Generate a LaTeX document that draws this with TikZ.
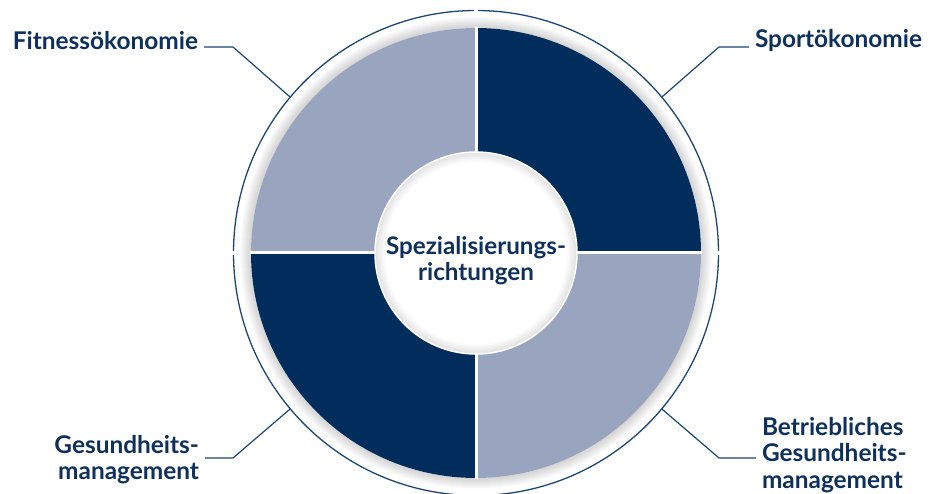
\documentclass[tikz,border=0pt]{standalone}
\usepackage{fontspec}
\setmainfont{Lato}
\usepackage{xcolor}
\definecolor{spNavy}{HTML}{002D5C}
\definecolor{spLight}{HTML}{99A4BF}
\definecolor{spLine}{HTML}{1B4677}
\definecolor{spText}{HTML}{0E305E}
\usepackage{tikz}
\usetikzlibrary{calc}

\begin{document}
\begin{tikzpicture}[x=1pt, y=1pt,
  lbl/.style={font=\fontsize{24.4}{26.5}\selectfont\bfseries, text=spText, inner sep=0pt, outer sep=6pt},
  lead/.style={spLine, line width=1.2pt}]
  \useasboundingbox (0,0) rectangle (932,493);
  \coordinate (c) at (476,240);
  % soft shadow round the quadrants
  \foreach \r in {226,...,236} \fill[black, opacity=0.014, even odd rule] (c) circle[radius=\r pt] (c) circle[radius=225pt];
  % quadrants
  \fill[spNavy] (c) -- ++(0:225) arc[start angle=0, end angle=90, radius=225pt] -- cycle;
  \fill[spLight] (c) -- ++(90:225) arc[start angle=90, end angle=180, radius=225pt] -- cycle;
  \fill[spNavy] (c) -- ++(180:225) arc[start angle=180, end angle=270, radius=225pt] -- cycle;
  \fill[spLight] (c) -- ++(270:225) arc[start angle=270, end angle=360, radius=225pt] -- cycle;
  \draw[white, line width=3pt] ($(c)+(-226,0)$) -- ($(c)+(226,0)$);
  \draw[white, line width=3pt] ($(c)+(0,-226)$) -- ($(c)+(0,226)$);
  % centre disc
  \fill[white] (c) circle[radius=101pt];
  \foreach \r in {91,...,100} \fill[black, opacity=0.011, even odd rule] (c) circle[radius=101pt] (c) circle[radius=\r pt];
  \draw[white, line width=1.5pt] (c) circle[radius=101pt];
  \node[font=\fontsize{24.2}{26}\selectfont\bfseries, text=spText, align=center] (spez) at (476,232) {Spezialisierungs-\\richtungen};
  % outer ring, broken at the axes
  \foreach \a in {0,90,180,270}
    \draw[spLine, line width=1.3pt] (c) ++(\a+0.5:242.5) arc[start angle=\a+0.5, end angle=\a+89.5, radius=242.5pt];
  \coordinate (fitend) at ($(c)+(140:242.5)$);
  \coordinate (sportend) at ($(c)+(40:242.5)$);
  \coordinate (gesend) at ($(c)+(220:242.5)$);
  \coordinate (bgmend) at ($(c)+(320:242.5)$);
  \coordinate (fitknee) at (233,446);
  \coordinate (sportknee) at (719,446);
  \coordinate (gesknee) at (233,35);
  \coordinate (bgmknee) at (719,35);
  % labels
  \node[lbl, anchor=base east] (fit) at (204,443) {Fitnessökonomie};
  \node[lbl, anchor=base west] (sport) at (749,445) {Sportökonomie};
  \node[lbl, align=right, anchor=north east] (ges) at (205,64) {Gesundheits-\\management};
  \node[lbl, align=left, anchor=north west] (bgm) at (756,82) {Betriebliches\\Gesundheits-\\management};
  % leaders
  \draw[lead] (fit.east |- fitknee) -- (fitknee) -- (fitend);
  \draw[lead] (sport.west |- sportknee) -- (sportknee) -- (sportend);
  \draw[lead] (ges.east |- gesknee) -- (gesknee) -- (gesend);
  \draw[lead] (bgm.west |- bgmknee) -- (bgmknee) -- (bgmend);
\end{tikzpicture}
\end{document}
